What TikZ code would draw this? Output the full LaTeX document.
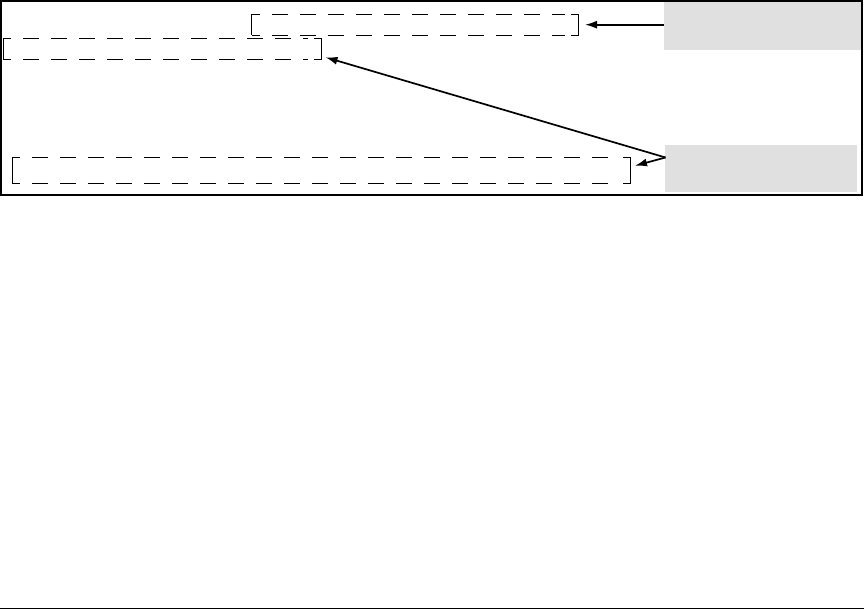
\documentclass[tikz,border=0pt]{standalone}
\usetikzlibrary{arrows.meta}
\definecolor{callgray}{HTML}{E0E0E0}
\begin{document}
\begin{tikzpicture}[x=1pt,y=-1pt,
  dbox/.style={draw=none,inner sep=0pt},
  dside/.style={line width=1pt,dash pattern=on 16pt off 12pt,dash phase=8pt},
  vside/.style={line width=1pt},
  gbox/.style={fill=callgray,draw=none,inner sep=0pt},
  callout/.style={line width=1.7pt,-{Latex[length=12pt,width=8pt]}}]
\useasboundingbox (0,0) rectangle (864,610);
% outer frame
\draw[line width=2pt] (1,1) rectangle (862,195);
% bottom rule
\draw[line width=1pt] (0,608.5) -- (864,608.5);
% gray callout boxes
\node[gbox,minimum width=196.7pt,minimum height=47.7pt] (g1) at (762.65,26) {};
\node[gbox,minimum width=192pt,minimum height=46.7pt] (g2) at (761,168.35) {};
% dashed boxes
\node[dbox,minimum width=326.7pt,minimum height=20.7pt] (a) at (415.35,24.65) {};
\node[dbox,minimum width=318.4pt,minimum height=21pt] (b) at (162.5,48.8) {};
\node[dbox,minimum width=618.4pt,minimum height=25.7pt] (c) at (321.5,170.15) {};
\foreach \n in {a,b,c}{
  \draw[vside] (\n.north west) -- (\n.south west);
  \draw[vside] ([xshift=-8pt]\n.north east) -- (\n.north east) -- (\n.south east) -- ([xshift=-8pt]\n.south east);
  \draw[dside] (\n.north west) -- ([xshift=-14pt]\n.north east);
  \draw[dside] (\n.south west) -- ([xshift=-14pt]\n.south east);
}
% arrow anchors
\coordinate (s2) at (665.5,157.5);
\coordinate (t1) at (585,24.7);
\coordinate (t2) at (325.5,57.3);
\coordinate (t3) at (635,165.7);
\draw[callout] (g1.west |- t1) -- (t1);
\draw[callout] (s2) -- (t2);
\draw[callout] (s2) -- (t3);
\end{tikzpicture}
\end{document}
